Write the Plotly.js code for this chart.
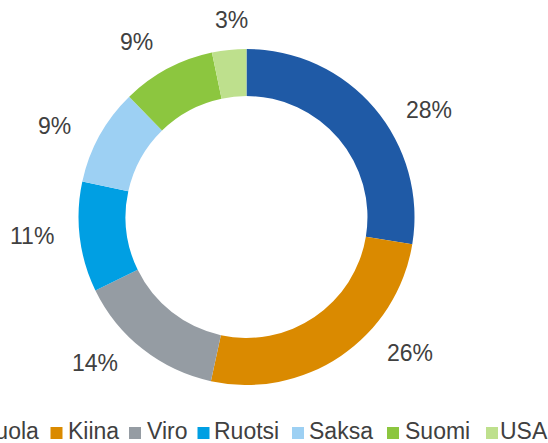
<!DOCTYPE html>
<html>
<head>
<meta charset="utf-8">
<script src="https://cdn.plot.ly/plotly-3.0.1.min.js"></script>
<style>
  html, body { margin: 0; padding: 0; background: #ffffff; overflow: hidden; }
  #chart { width: 548px; height: 443px; }
</style>
</head>
<body>
<div id="chart"></div>
<script>
// ---- data ----
var countries = ["Puola", "Kiina", "Viro", "Ruotsi", "Saksa", "Suomi", "USA"];
var shares = [27.6, 25.8, 14.4, 10.6, 9.3, 9.0, 3.3];
var colors = ["#1F5AA6", "#DA8A00", "#959CA3", "#009FE3", "#9DD0F3", "#8CC63F", "#BEE08D"];

// ---- layout helpers (positions in pixels of the 548x443 canvas) ----
var W = 548, H = 443;
var cx = 246.5, cy = 217, R = 168;
var labelPos = [[428.5, 109.5], [410, 352.5], [94.5, 363.3], [32, 236], [54.5, 126], [136.5, 42.3], [231, 19.7]];
var legendSwatchX = [-38, 50.5, 129, 197.5, 292, 387, 486];
var legendTextX = [-20, 68, 147, 214, 309, 405, 500];
var legendY = 431;
var swatch = 12;
var textColor = "#404040";
var fontFamily = "Liberation Sans, Arial, sans-serif";

var annotations = [];
var shapes = [];
shares.forEach(function (v, i) {
  annotations.push({
    xref: "paper", yref: "paper",
    x: labelPos[i][0] / W, y: 1 - labelPos[i][1] / H,
    xanchor: "center", yanchor: "middle",
    text: Math.round(v) + "%",
    showarrow: false,
    font: { family: fontFamily, size: 23, color: textColor }
  });
});
countries.forEach(function (c, i) {
  shapes.push({
    type: "rect", xref: "paper", yref: "paper",
    x0: legendSwatchX[i] / W, x1: (legendSwatchX[i] + swatch) / W,
    y0: 1 - (legendY + 2 - swatch / 2) / H, y1: 1 - (legendY + 2 + swatch / 2) / H,
    fillcolor: colors[i], line: { width: 0 }
  });
  annotations.push({
    xref: "paper", yref: "paper",
    x: (legendTextX[i] - 2) / W, y: 1 - legendY / H,
    xanchor: "left", yanchor: "middle",
    text: c,
    showarrow: false,
    font: { family: fontFamily, size: 23, color: textColor }
  });
});

var trace = {
  type: "pie",
  labels: countries,
  values: shares,
  sort: false,
  direction: "clockwise",
  rotation: 0,
  hole: 0.72,
  marker: { colors: colors, line: { width: 0 } },
  textinfo: "none",
  hoverinfo: "label+percent",
  domain: {
    x: [(cx - R) / W, (cx + R) / W],
    y: [(H - cy - R) / H, (H - cy + R) / H]
  },
  showlegend: false
};

var layout = {
  width: W, height: H,
  margin: { l: 0, r: 0, t: 0, b: 0 },
  paper_bgcolor: "#ffffff",
  plot_bgcolor: "#ffffff",
  showlegend: false,
  font: { family: fontFamily, color: textColor },
  annotations: annotations,
  shapes: shapes
};

Plotly.newPlot("chart", [trace], layout, { staticPlot: true, displayModeBar: false });
</script>
</body>
</html>
